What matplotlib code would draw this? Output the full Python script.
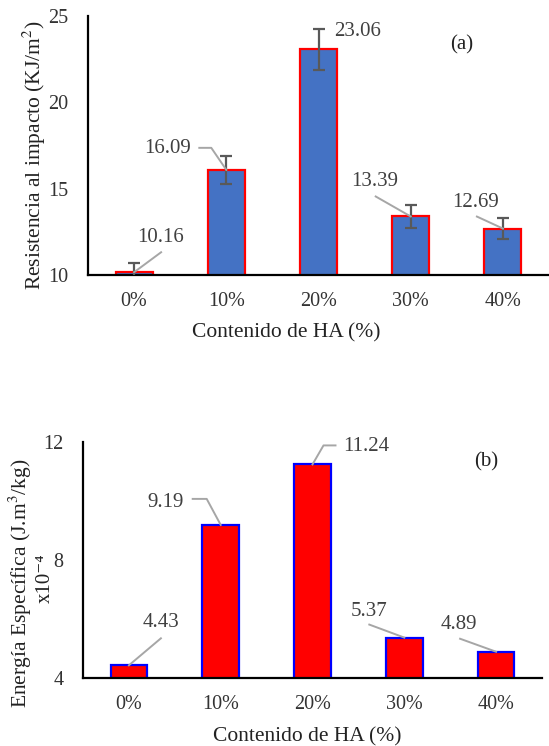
import numpy as np
import matplotlib
matplotlib.use('Agg')
import matplotlib.pyplot as plt

plt.rcParams['font.family'] = ['Liberation Serif', 'DejaVu Serif']
plt.rcParams['mathtext.fontset'] = 'stix'

# Datos
categorias = ['0%', '10%', '20%', '30%', '40%']
resistencia = [10.16, 16.09, 23.06, 13.39, 12.69]
error_res = [0.55, 0.82, 1.17, 0.67, 0.62]
energia = [4.43, 9.19, 11.24, 5.37, 4.89]

# Posición de las etiquetas (pixeles respecto a la cima de la barra) y líneas guía
etq_res = [(26, 35), (-59, 21), (39, 18), (-36, 35), (-27, 26)]
guia_res = [[(0, 0), (27, 20)],
            [(0, 0), (-15, 22), (-27, 22)],
            None,
            [(0, 0), (-35, 20)],
            [(0, 0), (-26, 12)]]
etq_ene = [(32, 43), (-55, 22), (54, 18), (-35, 26), (-37, 27)]
guia_ene = [[(0, 0), (32, 27)],
            [(0, 0), (-14, 26), (-28, 26)],
            [(0, 0), (11, 19), (23, 19)],
            [(0, 0), (-35, 13)],
            [(0, 0), (-36, 13)]]

W, H = 549, 746
fig = plt.figure(figsize=(W / 100, H / 100), dpi=100)


def px(x0, y0, x1, y1):
    # caja en pixeles (origen arriba-izquierda) -> fracción de figura
    return [x0 / W, 1 - y1 / H, (x1 - x0) / W, (y1 - y0) / H]


def estilo(ax):
    for s in ['top', 'right']:
        ax.spines[s].set_visible(False)
    for s in ['left', 'bottom']:
        ax.spines[s].set_linewidth(1.6)
        ax.spines[s].set_color('black')
    ax.tick_params(length=0, labelsize=14.5, labelcolor='#333333')
    ax.tick_params(axis='y', pad=14)
    ax.tick_params(axis='x', pad=12)
    ax.set_xlim(-0.5, 4.5)


def etiquetas(ax, valores, posiciones, guias):
    fig.canvas.draw()
    for i, (v, (dx, dy), g) in enumerate(zip(valores, posiciones, guias)):
        x0, y0 = ax.transData.transform((i, v))
        if g is not None:
            xs = [x0 + p[0] for p in g]
            ys = [y0 + p[1] for p in g]
            ax.plot(xs, ys, color='#a6a6a6', lw=1.4, transform=None, clip_on=False, zorder=4)
        ax.annotate(f'{v:.2f}', xy=(i, v), xytext=(dx, dy), textcoords='offset pixels',
                    ha='center', va='center', fontsize=15, color='#404040', zorder=5)


def texto(xp, yp, s, size=15.5, **kw):
    # texto en pixeles (origen arriba-izquierda)
    fig.text(xp / W, 1 - yp / H, s, fontsize=size, color='#222222', ha='center', va='center', **kw)


x = np.arange(len(categorias))

# (a) Resistencia al impacto
ax1 = fig.add_axes(px(88, 16, 549, 275))
estilo(ax1)
ax1.bar(x, resistencia, width=0.4, color='#4472C4', edgecolor='#ff0000', linewidth=1.6, zorder=2)
ax1.errorbar(x, resistencia, yerr=error_res, fmt='none', ecolor='#595959',
             elinewidth=1.6, capsize=4, capthick=1.6, zorder=3)
ax1.set_ylim(10, 25)
ax1.set_yticks([10, 15, 20, 25])
ax1.set_xticks(x)
ax1.set_xticklabels(categorias)
etiquetas(ax1, resistencia, etq_res, guia_res)

# (b) Energía específica
ax2 = fig.add_axes(px(83, 442, 542, 678))
estilo(ax2)
ax2.bar(x, energia, width=0.4, color='#ff0000', edgecolor='#0000ff', linewidth=1.6, zorder=2)
ax2.set_ylim(4, 12)
ax2.set_yticks([4, 8, 12])
ax2.set_xticks(x)
ax2.set_xticklabels(categorias)
etiquetas(ax2, energia, etq_ene, guia_ene)

# Títulos de ejes y rótulos de panel
texto(286, 333, 'Contenido de HA (%)')
texto(307, 737, 'Contenido de HA (%)')
texto(34, 155, r'Resistencia al impacto (KJ/m$^{2}$)', rotation=90)
texto(20, 583, r'Energía Específica (J.m$^{3}$/kg)', rotation=90)
texto(45, 578, 'x10⁻⁴', size=15, rotation=90)
texto(462, 45, '(a)', size=15)
texto(486, 462, '(b)', size=15)

fig.savefig('out.png', dpi=100)
